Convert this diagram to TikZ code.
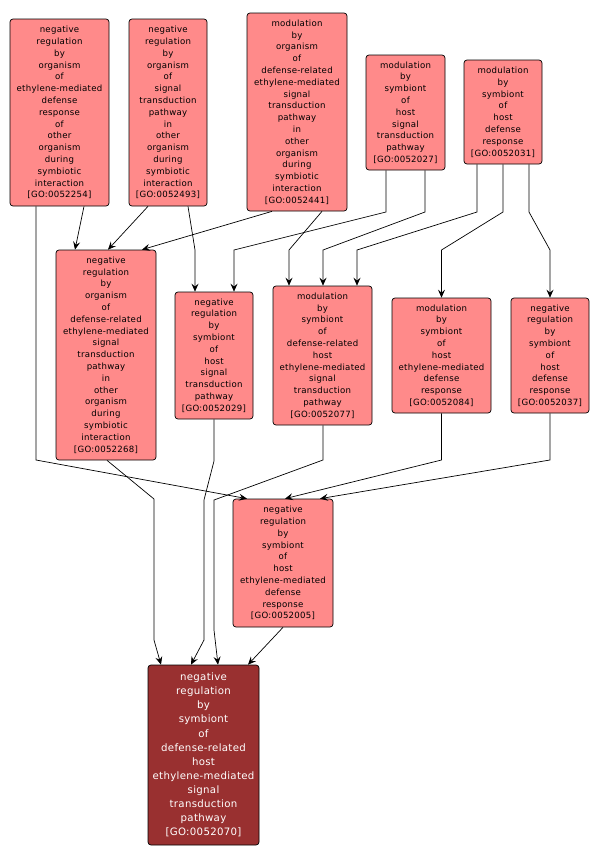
\documentclass[tikz,border=0pt]{standalone}
\usepackage{fontspec}
\newfontfamily\gofont[LetterSpace=3]{DejaVu Sans}
\usetikzlibrary{arrows.meta}
\definecolor{termfill}{RGB}{255,138,138}
\definecolor{rootfill}{RGB}{153,48,48}
\begin{document}
\begin{tikzpicture}[x=1pt, y=-1pt, >={Stealth[length=8pt,width=7pt,inset=3pt]},
    goterm/.style={draw=black, fill=termfill, rounded corners=3pt, align=center, inner sep=0pt,
        font=\gofont\fontsize{8.6}{11.8}\selectfont, line width=0.7pt},
    goroot/.style={goterm, fill=rootfill, text=white, font=\gofont\fontsize{10.2}{14.1}\selectfont},
    edge/.style={->, line width=0.7pt}]
    \useasboundingbox (0,0) rectangle (600,860);
    % top row
    \node[goterm, minimum width=99, minimum height=187] (t254) at (59.5,112.5) {negative\\regulation\\by\\organism\\of\\ethylene-mediated\\defense\\response\\of\\other\\organism\\during\\symbiotic\\interaction\\{[GO:0052254]}};
    \node[goterm, minimum width=78, minimum height=187] (t493) at (168,112.5) {negative\\regulation\\by\\organism\\of\\signal\\transduction\\pathway\\in\\other\\organism\\during\\symbiotic\\interaction\\{[GO:0052493]}};
    \node[goterm, minimum width=100, minimum height=198] (t441) at (297,112) {modulation\\by\\organism\\of\\defense-related\\ethylene-mediated\\signal\\transduction\\pathway\\in\\other\\organism\\during\\symbiotic\\interaction\\{[GO:0052441]}};
    \node[goterm, minimum width=79, minimum height=115] (t027) at (405.5,112.5) {modulation\\by\\symbiont\\of\\host\\signal\\transduction\\pathway\\{[GO:0052027]}};
    \node[goterm, minimum width=78, minimum height=104] (t031) at (503,112) {modulation\\by\\symbiont\\of\\host\\defense\\response\\{[GO:0052031]}};
    % middle row
    \node[goterm, minimum width=100, minimum height=210] (t268) at (106,355) {negative\\regulation\\by\\organism\\of\\defense-related\\ethylene-mediated\\signal\\transduction\\pathway\\in\\other\\organism\\during\\symbiotic\\interaction\\{[GO:0052268]}};
    \node[goterm, minimum width=78, minimum height=127] (t029) at (214,355.5) {negative\\regulation\\by\\symbiont\\of\\host\\signal\\transduction\\pathway\\{[GO:0052029]}};
    \node[goterm, minimum width=99, minimum height=139] (t077) at (322.5,355.5) {modulation\\by\\symbiont\\of\\defense-related\\host\\ethylene-mediated\\signal\\transduction\\pathway\\{[GO:0052077]}};
    \node[goterm, minimum width=99, minimum height=115] (t084) at (441.5,355.5) {modulation\\by\\symbiont\\of\\host\\ethylene-mediated\\defense\\response\\{[GO:0052084]}};
    \node[goterm, minimum width=78, minimum height=115] (t037) at (550,355.5) {negative\\regulation\\by\\symbiont\\of\\host\\defense\\response\\{[GO:0052037]}};
    % lower rows
    \node[goterm, minimum width=100, minimum height=128] (t005) at (283,563) {negative\\regulation\\by\\symbiont\\of\\host\\ethylene-mediated\\defense\\response\\{[GO:0052005]}};
    \node[goroot, minimum width=111, minimum height=180] (t070) at (203.5,755) {negative\\regulation\\by\\symbiont\\of\\defense-related\\host\\ethylene-mediated\\signal\\transduction\\pathway\\{[GO:0052070]}};
    % edges
    \draw[edge] ([xshift=24.5]t254.south) -- ([xshift=-31]t268.north);
    \draw[edge] ([xshift=-23.5]t254.south) -- (36,460) -- ([xshift=-36]t005.north);
    \draw[edge] ([xshift=-20]t493.south) -- ([xshift=2]t268.north);
    \draw[edge] ([xshift=20]t493.south) -- (195,250) -- ([xshift=-19]t029.north);
    \draw[edge] ([xshift=-25]t441.south) -- ([xshift=36]t268.north);
    \draw[edge] ([xshift=25]t441.south) -- (289,250) -- ([xshift=-33.5]t077.north);
    \draw[edge] ([xshift=-19.5]t027.south) -- (386,212) -- (234,250) -- ([xshift=20]t029.north);
    \draw[edge] ([xshift=19.5]t027.south) -- (425,212) -- (323,250) -- ([xshift=0.5]t077.north);
    \draw[edge] ([xshift=-26]t031.south) -- (477,212) -- (357,250) -- ([xshift=34.5]t077.north);
    \draw[edge] (t031.south) -- (503,212) -- (441.5,250) -- (t084.north);
    \draw[edge] ([xshift=26]t031.south) -- (529,212) -- (550,250) -- (t037.north);
    \draw[edge] ([xshift=1]t268.south) -- (154,499) -- (154,640) -- ([xshift=-42.5]t070.north);
    \draw[edge] (t029.south) -- (214,461) -- (204,500) -- (204,640) -- ([xshift=-12.5]t070.north);
    \draw[edge] ([xshift=0.5]t077.south) -- (323,460) -- (214,500) -- (214,630) -- ([xshift=14.5]t070.north);
    \draw[edge] (t084.south) -- (441.5,460) -- ([xshift=2]t005.north);
    \draw[edge] (t037.south) -- (550,460) -- ([xshift=37]t005.north);
    \draw[edge] (t005.south) -- ([xshift=44.5]t070.north);
\end{tikzpicture}
\end{document}
